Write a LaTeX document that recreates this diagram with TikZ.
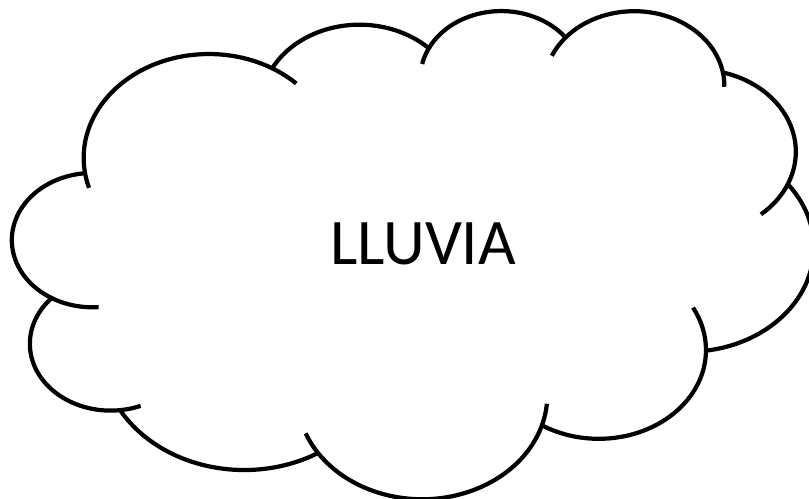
\documentclass[tikz,border=0pt]{standalone}
\usepackage{fontspec}
\setmainfont{Carlito}
\usepackage{tikz}

\begin{document}
\begin{tikzpicture}[
  x=0.02cm, y=-0.02cm,
  declare function={vpar(\a,\rx,\ry)=(\a)+asin(sin(atan2((\rx)*sin(\a),(\ry)*cos(\a))-(\a)));},
  bump/.style n args={4}{insert path={arc[start angle={vpar(#3,#1,#2)},
                   end angle={vpar((#3)+(#4),#1,#2)}, x radius=#1, y radius=#2]}},
  cloudline/.style = {line width=2.4pt, black, line join=round},
  crease/.style    = {line width=2.4pt, black},
  lbl/.style       = {font=\fontsize{37}{40}\selectfont, inner sep=0pt},
]
\useasboundingbox (0,0) rectangle (809,499);
\begin{scope}[shift={(12.5,9.5)}, xscale=801/4320, yscale=488/4320]
% outline, bump by bump
\draw[cloudline] (390,1437) coordinate (k1)
  [bump={675.3}{919.0}{-190.4875}{123.7805}]  coordinate (k11)
  [bump={533.3}{726.7}{-144.1024}{89.9452}]   coordinate (k10)
  [bump={436.5}{594.5}{-145.8079}{99.7230}]   coordinate (k9)
  [bump={485.7}{659.5}{-130.9861}{117.2417}]  coordinate (k8)
  [bump={533.3}{727.3}{-78.7089}{109.0269}]   coordinate (k7)
  [bump={677.5}{922.0}{-46.2673}{130.2690}]   coordinate (k6)
  [bump={578.5}{786.7}{0.6250}{114.0333}]     coordinate (k5)
  [bump={675.2}{921.5}{22.4516}{115.1726}]    coordinate (k4)
  [bump={772.0}{1054.3}{66.2426}{75.7110}]    coordinate (k3)
  [bump={436.0}{591.8}{-274.9421}{146.7356}]  coordinate (k2)
  [bump={434.5}{594.5}{-246.8285}{152.5189}]  -- cycle;
% inner creases
\draw[crease] (k1)  [bump={675.3}{919.0}{169.5125}{-11.858}];
\draw[crease] (k2)  [bump={434.5}{594.5}{113.1715}{-26.4295}];
\draw[crease] (k3)  [bump={436.0}{591.8}{85.0579}{-11.4475}];
\draw[crease] (k4)  [bump={675.2}{921.5}{137.6242}{14.0811}];
\draw[crease] (k5)  [bump={675.2}{921.5}{22.4516}{-15.9984}];
\draw[crease] (k6)  [bump={578.5}{786.7}{0.6250}{-37}];
\draw[crease] (k7)  [bump={533.3}{727.3}{30.318}{27.7515}];
\draw[crease] (k8)  [bump={485.7}{659.5}{-13.7443}{14.8589}];
\draw[crease] (k9)  [bump={485.7}{659.5}{-130.9861}{-18.1954}];
\draw[crease] (k10) [bump={436.5}{594.5}{-145.8079}{-17.6864}];
\draw[crease] (k11) [bump={675.3}{919.0}{-66.707}{12.3194}];
\end{scope}
\node[lbl, anchor=base] (rain) at (423,265) {LLUVIA};
\end{tikzpicture}
\end{document}
